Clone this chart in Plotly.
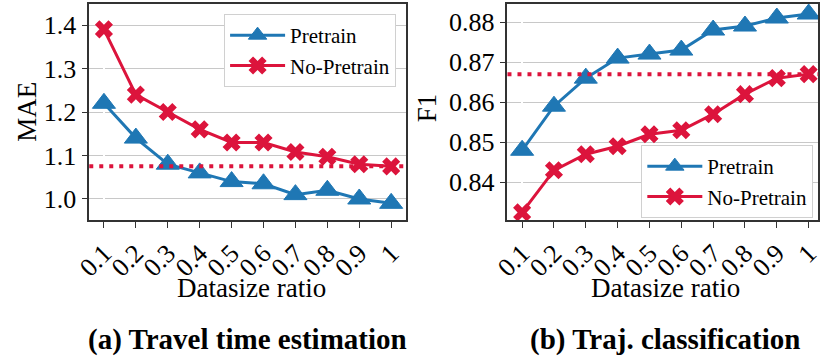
import plotly.graph_objects as go
from plotly.subplots import make_subplots

ratios = ['0.1', '0.2', '0.3', '0.4', '0.5', '0.6', '0.7', '0.8', '0.9', '1']

# (a) travel time estimation, MAE
tte_pretrain = [1.22, 1.14, 1.08, 1.06, 1.04, 1.035, 1.01, 1.02, 1.0, 0.99]
tte_nopretrain = [1.39, 1.24, 1.20, 1.16, 1.13, 1.13, 1.108, 1.097, 1.08, 1.075]
tte_ref = 1.075

# (b) trajectory classification, F1
cls_pretrain = [0.848, 0.859, 0.866, 0.871, 0.872, 0.873, 0.878, 0.879, 0.881, 0.882]
cls_nopretrain = [0.8325, 0.843, 0.847, 0.849, 0.852, 0.853, 0.857, 0.862, 0.866, 0.867]
cls_ref = 0.867

blue = '#1f77b4'
red = '#dc143c'
font = 'Liberation Serif, Times New Roman, serif'
W, H = 831, 356


def fx(px):
    return px / W


def fy(py):
    return 1 - py / H


fig = make_subplots(rows=1, cols=2)
xs = list(range(len(ratios)))

for col, (pre, nopre) in enumerate([(tte_pretrain, tte_nopretrain), (cls_pretrain, cls_nopretrain)], start=1):
    leg = 'legend' if col == 1 else 'legend2'
    fig.add_trace(go.Scatter(x=xs, y=pre, name='Pretrain', mode='lines+markers',
                             line=dict(color=blue, width=3),
                             marker=dict(symbol='triangle-up', size=20, color=blue,
                                         line=dict(color=blue, width=1)),
                             legend=leg), row=1, col=col)
    fig.add_trace(go.Scatter(x=xs, y=nopre, name='No-Pretrain', mode='lines+markers',
                             line=dict(color=red, width=3),
                             marker=dict(symbol='x', size=16, color=red),
                             legend=leg), row=1, col=col)

# dotted reference line (No-Pretrain with full data)
for xref, yref, val in [('x domain', 'y', tte_ref), ('x2 domain', 'y2', cls_ref)]:
    fig.add_shape(type='line', xref=xref, yref=yref, x0=0, x1=1, y0=val, y1=val,
                  line=dict(color=red, width=4, dash='4px,6px'))

axis_common = dict(showline=True, linecolor='#333', linewidth=1.5, mirror=True,
                   ticks='outside', ticklen=6, tickcolor='#333')

fig.update_xaxes(tickvals=xs, ticktext=ratios, tickangle=-45, showgrid=False,
                 tickfont=dict(family=font, size=26, color='black'), **axis_common)
fig.update_xaxes(domain=[fx(76), fx(400)], range=[-0.46, 9.46], row=1, col=1)
fig.update_xaxes(domain=[fx(504), fx(822)], range=[-0.46, 9.3], row=1, col=2)

fig.update_yaxes(showgrid=True, gridcolor='#c8c8c8', gridwidth=1, domain=[fy(220), fy(4)],
                 tickfont=dict(family=font, size=26, color='black'), **axis_common)
fig.update_yaxes(range=[0.9517, 1.4483], tickvals=[1.0, 1.1, 1.2, 1.3, 1.4],
                 ticktext=['1.0', '1.1', '1.2', '1.3', '1.4'], row=1, col=1)
fig.update_yaxes(range=[0.8306, 0.8845], tickvals=[0.84, 0.85, 0.86, 0.87, 0.88],
                 ticktext=['0.84', '0.85', '0.86', '0.87', '0.88'], row=1, col=2)

legend_style = dict(bgcolor='white', bordercolor='#d0d0d0', borderwidth=1,
                    font=dict(family=font, size=21, color='black'), itemwidth=55)
fig.update_layout(
    legend=dict(x=fx(390), y=fy(14), xanchor='right', yanchor='top', **legend_style),
    legend2=dict(x=fx(817), y=fy(145), xanchor='right', yanchor='top', **legend_style),
)

for txt, xpix, ypix in [('MAE', 12, 112), ('F1', 422, 108)]:
    fig.add_annotation(text=txt, xref='paper', yref='paper', x=fx(xpix), y=fy(ypix),
                       xanchor='center', yanchor='middle', textangle=-90, showarrow=False,
                       font=dict(family=font, size=27, color='black'))
for xpix in [242, 666]:
    fig.add_annotation(text='Datasize ratio', xref='paper', yref='paper', x=fx(xpix), y=fy(288),
                       xanchor='center', yanchor='middle', showarrow=False,
                       font=dict(family=font, size=27, color='black'))
for txt, xpix in [('<b>(a) Travel time estimation</b>', 238), ('<b>(b) Traj. classification</b>', 665)]:
    fig.add_annotation(text=txt, xref='paper', yref='paper', x=fx(xpix), y=fy(339),
                       xanchor='center', yanchor='middle', showarrow=False,
                       font=dict(family=font, size=29, color='black'))

fig.update_layout(width=W, height=H, margin=dict(l=0, r=0, t=0, b=0),
                  plot_bgcolor='white', paper_bgcolor='white', showlegend=True)

fig.write_html("out.html", config={'displayModeBar': False},
               post_script="document.body.style.margin = '0';")
